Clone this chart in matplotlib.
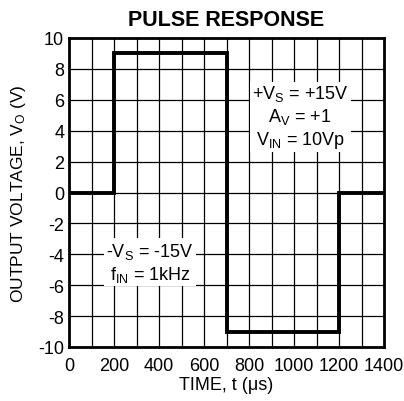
import matplotlib
matplotlib.use("Agg")
import matplotlib.pyplot as plt

plt.rcParams["font.family"] = ["Liberation Sans", "DejaVu Sans"]
plt.rcParams["mathtext.fontset"] = "custom"
plt.rcParams["mathtext.rm"] = "Liberation Sans"
plt.rcParams["mathtext.it"] = "Liberation Sans"

# pulse trace (time in us, output in V)
time_us = [0, 200, 200, 700, 700, 1200, 1200, 1400]
vout = [0, 0, 9, 9, -9, -9, 0, 0]

x_ticks = [0, 200, 400, 600, 800, 1000, 1200, 1400]
y_ticks = [-10, -8, -6, -4, -2, 0, 2, 4, 6, 8, 10]

fig = plt.figure(figsize=(4.04, 4.02), dpi=100)
ax = fig.add_axes([69 / 404, 1 - 348 / 402, 315 / 404, 309 / 402])

ax.set_xlim(0, 1400)
ax.set_ylim(-10, 10)
ax.set_xticks(range(0, 1401, 100), minor=True)
ax.set_xticks(x_ticks)
ax.set_yticks(y_ticks)
ax.set_xticklabels([str(v) for v in x_ticks])
ax.set_yticklabels([str(v) for v in y_ticks])
ax.tick_params(which="both", length=0, labelsize=13)
ax.tick_params(axis="x", pad=7.5)
ax.tick_params(axis="y", pad=3.5)
ax.grid(True, which="both", color="black", linewidth=0.9)
ax.set_axisbelow(True)
for s in ax.spines.values():
    s.set_linewidth(2)

ax.plot(time_us, vout, color="black", linewidth=2.8, solid_joinstyle="miter", zorder=3)

box = dict(facecolor="white", edgecolor="none", pad=1.5)
ax.text(1027, 4.9, "+V$_\\mathregular{S}$ = +15V\nA$_\\mathregular{V}$ = +1\nV$_\\mathregular{IN}$ = 10Vp",
        ha="center", va="center", fontsize=13, linespacing=1.2, bbox=box, zorder=4)
ax.text(360, -4.5, "-V$_\\mathregular{S}$ = -15V\nf$_\\mathregular{IN}$ = 1kHz",
        ha="center", va="center", fontsize=13, linespacing=1.2, bbox=box, zorder=4)

ax.set_title("PULSE RESPONSE", fontsize=15.5, fontweight="bold", pad=9)
ax.set_xlabel("TIME, t (μs)", fontsize=13, labelpad=1)
ax.set_ylabel("OUTPUT VOLTAGE, V$_\\mathregular{O}$ (V)", fontsize=12.5, labelpad=7)

fig.savefig("out.png", dpi=100)
